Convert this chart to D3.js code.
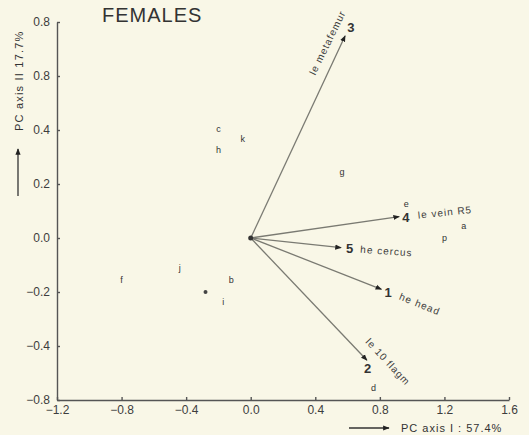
<!DOCTYPE html>
<html lang="en">
<head>
<meta charset="UTF-8">
<title>FEMALES PCA biplot</title>
<script src="https://d3js.org/d3.v7.min.js"></script>
<style>
    html, body { margin: 0; padding: 0; background: #f9f7e7; }
    svg { display: block; font-family: Arial, "Liberation Sans", sans-serif; }
    .tick text { font-size: 12px; fill: #3d3d3d; }
    .domain, .tick line { stroke: #555; stroke-width: 1.4; }
    .vec { stroke: #7a7a72; stroke-width: 1.3; }
    .lab { font-size: 10px; letter-spacing: 1px; fill: #3d3d3d; }
    .num { font-size: 13px; font-weight: bold; fill: #333; }
    .pt { font-size: 9px; fill: #333; }
</style>
</head>
<body>
<div id="chart"></div>
<script>
// axis ticks (labels as printed on the figure)
const xTicks = [-1.2, -0.8, -0.4, 0.0, 0.4, 0.8, 1.2, 1.6];
const xTickLabels = ["\u22121.2", "\u22120.8", "\u22120.4", "0.0", "0.4", "0.8", "1.2", "1.6"];
const yTicks = [0.8, 0.6, 0.4, 0.2, 0.0, -0.2, -0.4, -0.6];
const yTickLabels = ["0.8", "0.8", "0.4", "0.2", "0.0", "\u22120.2", "\u22120.4", "\u22120.8"];

// variable loadings (arrows)
const varIds = ["1", "2", "3", "4", "5"];
const varNames = ["he head", "le 10 flagm", "le metafemur", "le vein R5", "he cercus"];
const varPC1 = [0.81, 0.72, 0.585, 0.92, 0.56];
const varPC2 = [-0.19, -0.453, 0.749, 0.079, -0.036];

// specimen / taxon scores
const taxa = ["a", "b", "c", "d", "e", "f", "g", "h", "i", "j", "k", "p", "o"];
const taxaPC1 = [1.32, -0.12, -0.2, 0.76, 0.963, -0.8, 0.565, -0.2, -0.17, -0.44, -0.05, 1.2, -0.28];
const taxaPC2 = [0.044, -0.156, 0.405, -0.555, 0.125, -0.156, 0.243, 0.326, -0.236, -0.112, 0.365, 0.0, -0.2];

const width = 529, height = 435;

const svg = d3.select("#chart").append("svg")
    .attr("width", width)
    .attr("height", height);

const x = d3.scaleLinear().domain([-1.2, 1.6]).range([57, 509]);
const y = d3.scaleLinear().domain([-0.6, 0.8]).range([400, 22]);

const defs = svg.append("defs");
defs.append("marker")
    .attr("id", "head")
    .attr("viewBox", "0 0 10 10")
    .attr("refX", 9).attr("refY", 5)
    .attr("markerWidth", 5).attr("markerHeight", 5)
    .attr("markerUnits", "strokeWidth")
    .attr("orient", "auto")
    .append("path")
    .attr("d", "M0,1 L10,5 L0,9 Z")
    .attr("fill", "#222");

// axes with inward ticks
svg.append("g")
    .attr("transform", `translate(0,${y(-0.6)})`)
    .call(d3.axisBottom(x)
        .tickValues(xTicks)
        .tickFormat((d, i) => xTickLabels[i])
        .tickSizeInner(-3).tickSizeOuter(0).tickPadding(5));

svg.append("g")
    .attr("transform", `translate(${x(-1.2)},0)`)
    .call(d3.axisLeft(y)
        .tickValues(yTicks)
        .tickFormat((d, i) => yTickLabels[i])
        .tickSizeInner(-3).tickSizeOuter(0).tickPadding(7));

// title
svg.append("text")
    .attr("x", 102).attr("y", 22)
    .attr("font-size", 20)
    .attr("letter-spacing", 1)
    .attr("fill", "#333")
    .text("FEMALES");

// axis titles with arrows
svg.append("line")
    .attr("x1", 18).attr("y1", 196).attr("x2", 18).attr("y2", 149)
    .attr("stroke", "#333").attr("stroke-width", 1.3)
    .attr("marker-end", "url(#head)");
svg.append("text")
    .attr("transform", "translate(23,131) rotate(-90)")
    .attr("font-size", 11).attr("letter-spacing", 1.2).attr("fill", "#333")
    .text("PC axis II    17.7%");

svg.append("line")
    .attr("x1", 349).attr("y1", 428).attr("x2", 389).attr("y2", 428)
    .attr("stroke", "#333").attr("stroke-width", 1.3)
    .attr("marker-end", "url(#head)");
svg.append("text")
    .attr("x", 401).attr("y", 432)
    .attr("font-size", 11).attr("letter-spacing", 1).attr("fill", "#333")
    .text("PC axis I : 57.4%");

// loading vectors
const vecs = varIds.map((id, i) => ({ id, name: varNames[i], pc1: varPC1[i], pc2: varPC2[i] }));

svg.append("g").selectAll("line")
    .data(vecs)
    .join("line")
    .attr("class", "vec")
    .attr("x1", x(0)).attr("y1", y(0))
    .attr("x2", d => x(d.pc1)).attr("y2", d => y(d.pc2))
    .attr("marker-end", "url(#head)");

svg.append("circle")
    .attr("cx", x(0)).attr("cy", y(0)).attr("r", 2.5)
    .attr("fill", "#333");

// label placement relative to each arrow tip: number offset, name offset, name angle
const labelLayout = {
    "1": { nx: 3, ny: 8, tx: 17, ty: 10, rot: 22 },
    "2": { nx: -3, ny: 13, tx: -2, ty: -18, rot: 47 },
    "3": { nx: 2, ny: -4, tx: -30, ty: 40, rot: -64 },
    "4": { nx: 3, ny: 5, tx: 19, ty: 2, rot: -6 },
    "5": { nx: 5, ny: 5, tx: 19, ty: 5, rot: 4 }
};

const vl = svg.append("g").selectAll("g")
    .data(vecs)
    .join("g")
    .attr("transform", d => `translate(${x(d.pc1)},${y(d.pc2)})`);

vl.append("text")
    .attr("class", "num")
    .attr("x", d => labelLayout[d.id].nx)
    .attr("y", d => labelLayout[d.id].ny)
    .text(d => d.id);

vl.append("text")
    .attr("class", "lab")
    .attr("transform", d => {
        const l = labelLayout[d.id];
        return `translate(${l.tx},${l.ty}) rotate(${l.rot})`;
    })
    .text(d => d.name);

// taxon scores
const pts = taxa.map((t, i) => ({ t, pc1: taxaPC1[i], pc2: taxaPC2[i] }));

svg.append("g").selectAll("text")
    .data(pts.filter(d => d.t !== "o"))
    .join("text")
    .attr("class", "pt")
    .attr("text-anchor", "middle")
    .attr("x", d => x(d.pc1))
    .attr("y", d => y(d.pc2) + 3)
    .text(d => d.t);

svg.append("g").selectAll("circle")
    .data(pts.filter(d => d.t === "o"))
    .join("circle")
    .attr("cx", d => x(d.pc1))
    .attr("cy", d => y(d.pc2))
    .attr("r", 2)
    .attr("fill", "#444");
</script>
</body>
</html>
